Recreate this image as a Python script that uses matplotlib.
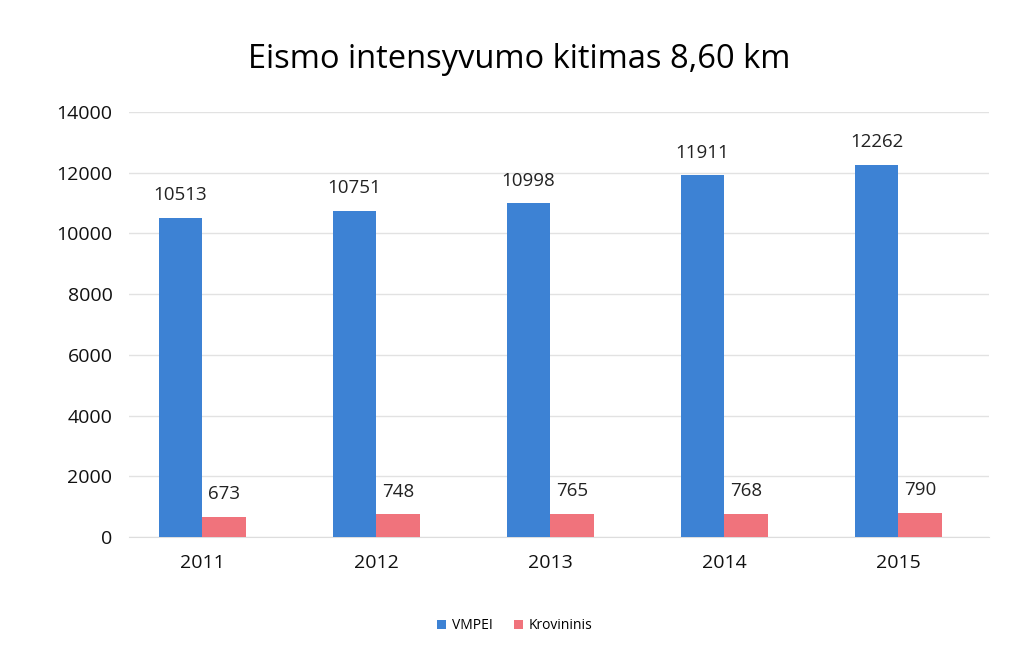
import numpy as np
import matplotlib
matplotlib.use("Agg")
import matplotlib.pyplot as plt

years = ['2011', '2012', '2013', '2014', '2015']
vmpei = [10513, 10751, 10998, 11911, 12262]
krovininis = [673, 748, 765, 768, 790]
yticks = [0, 2000, 4000, 6000, 8000, 10000, 12000, 14000]

plt.rcParams['font.family'] = ['Open Sans', 'DejaVu Sans']

fig = plt.figure(figsize=(10.09, 6.59), dpi=100)
ax = fig.add_axes([0.128, 0.185, 0.852, 0.645])

x = np.arange(len(years))
w = 0.25
b1 = ax.bar(x - w / 2, vmpei, w, color='#3d82d4', label='VMPEI', zorder=3)
b2 = ax.bar(x + w / 2, krovininis, w, color='#f0737c', label='Krovininis', zorder=3)

# value labels above each bar
for rect, v in zip(b1, vmpei):
    ax.text(rect.get_x() + rect.get_width() / 2, v + 450, str(v),
            ha='center', va='bottom', fontsize=13.5, color='#222222')
for rect, v in zip(b2, krovininis):
    ax.text(rect.get_x() + rect.get_width() / 2, v + 450, str(v),
            ha='center', va='bottom', fontsize=13.5, color='#222222')

ax.set_xlim(-0.42, 4.52)
ax.set_ylim(0, 14000)
ax.set_yticks(yticks)
ax.set_xticks(x)
ax.set_xticklabels(years)
ax.tick_params(axis='both', length=0, labelsize=14, colors='#111111')
ax.tick_params(axis='x', pad=12)
ax.tick_params(axis='y', pad=12)
ax.grid(axis='y', color='#e2e2e2', linewidth=1, zorder=0)
for s in ['top', 'right', 'left']:
    ax.spines[s].set_visible(False)
ax.spines['bottom'].set_color('#dddddd')

fig.suptitle('Eismo intensyvumo kitimas 8,60 km', fontsize=23.5, y=0.935, x=0.515)

fig.legend(loc='lower center', bbox_to_anchor=(0.51, 0.02), ncol=2, frameon=False,
           fontsize=10, handlelength=0.7, handleheight=0.7, columnspacing=1.5,
           handletextpad=0.4)

fig.savefig('out.png', dpi=100, facecolor='white')
